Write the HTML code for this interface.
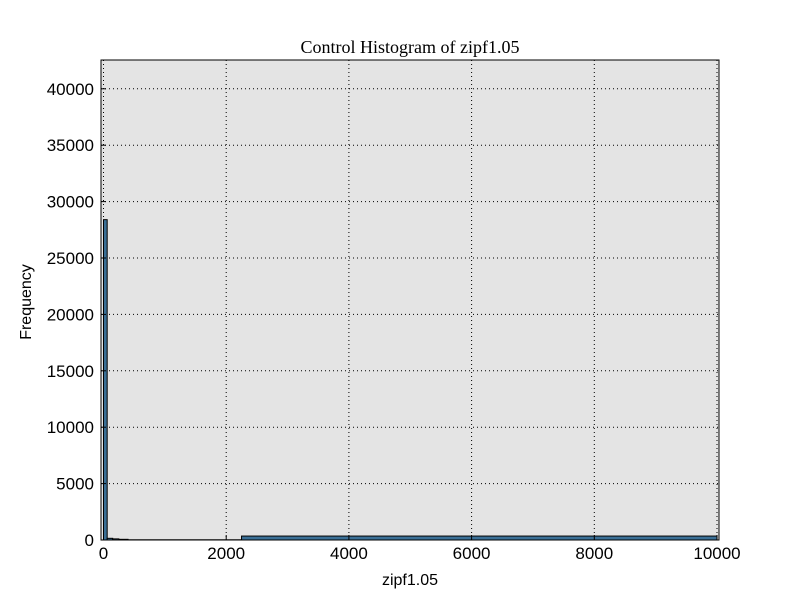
<!DOCTYPE html>
<html><head><meta charset="utf-8"><style>
body{margin:0;background:#fff;}
svg text{font-family:"Liberation Sans",sans-serif;}
</style></head><body>
<svg width="800" height="600">
<rect x="0" y="0" width="800" height="600" fill="#fff"/>
<rect x="101" y="60" width="618" height="480" fill="#e4e4e4"/>
<g id="grid"></g>
<g id="bars"></g>
<rect x="101" y="60" width="618" height="480" fill="none" stroke="#000" stroke-width="1"/>
<g id="ticks"></g>
<text x="410" y="53" text-anchor="middle" font-size="18" style="font-family:'Liberation Serif',serif">Control Histogram of zipf1.05</text>
<text x="410" y="585" text-anchor="middle" font-size="16">zipf1.05</text>
<text x="31" y="302" text-anchor="middle" font-size="16" transform="rotate(-90 31 302)">Frequency</text>
</svg>
<script>
const binEdges=[0,60,150,250,400,2250,10000];
const binCounts=[28400,150,100,60,20,350];
const xTicks=[0,2000,4000,6000,8000,10000];
const yTicks=[0,5000,10000,15000,20000,25000,30000,35000,40000];
const NS='http://www.w3.org/2000/svg';
function sx(v){return 103.5+(v/2000)*122.7;}
function sy(v){return 540-(v/5000)*56.4;}
function mk(t,a,p){const e=document.createElementNS(NS,t);for(const k in a)e.setAttribute(k,a[k]);p.appendChild(e);return e;}
const grid=document.getElementById('grid'),bars=document.getElementById('bars'),ticks=document.getElementById('ticks');
xTicks.forEach(v=>{const x=sx(v);
const g=mk('line',{x1:x,x2:x,y1:60,y2:540,stroke:'#000','stroke-dasharray':'1,3','stroke-width':1},grid);


const t1=mk('line',{x1:x,x2:x,y1:540,y2:535,stroke:'#000'},ticks);


const l=mk('text',{x:x,y:559,'text-anchor':'middle','font-size':17},ticks);l.textContent=v;

});
yTicks.forEach(v=>{const y=sy(v);
const g=mk('line',{x1:101,x2:719,y1:y,y2:y,stroke:'#000','stroke-dasharray':'1,3','stroke-width':1},grid);


const t1=mk('line',{x1:101,x2:106,y1:y,y2:y,stroke:'#000'},ticks);


const l=mk('text',{x:94,y:y+6,'text-anchor':'end','font-size':17},ticks);l.textContent=v;

});
binCounts.forEach((c,i)=>{const x0=sx(binEdges[i]),x1=sx(binEdges[i+1]);
const r=mk('rect',{x:x0,y:sy(c),width:Math.max(x1-x0,0.5),height:540-sy(c),fill:'#3a6f96',stroke:'#000','stroke-width':1},bars);

});
</script>
</body></html>
